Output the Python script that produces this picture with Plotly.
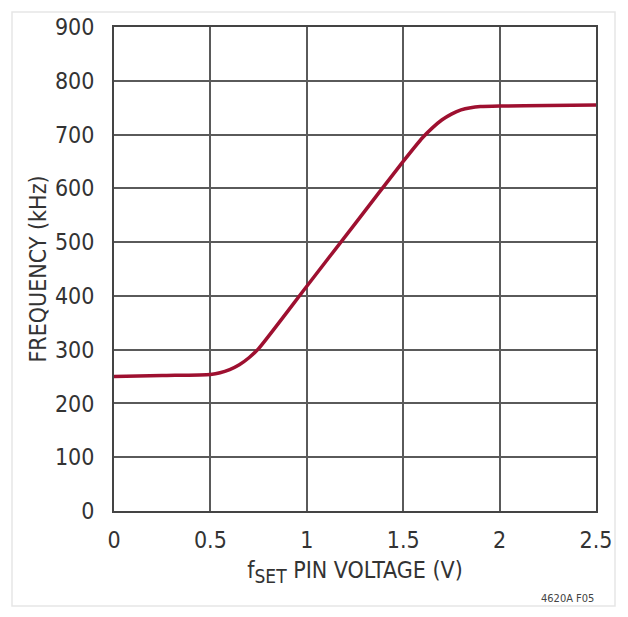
import plotly.graph_objects as go

# Data
voltage = [0.0, 0.25, 0.5, 0.55, 0.6, 0.65, 0.7, 0.75, 1.0, 1.25, 1.5, 1.6, 1.65, 1.7, 1.75, 1.8, 1.85, 1.9, 2.0, 2.25, 2.5]
frequency = [250, 252, 254, 257, 263, 272, 285, 302, 418, 534, 650, 694, 712, 727, 738, 746, 750, 752, 753, 754, 755]

x_ticks = [0, 0.5, 1, 1.5, 2, 2.5]
x_tick_labels = ["0", "0.5", "1", "1.5", "2", "2.5"]
y_ticks = [0, 100, 200, 300, 400, 500, 600, 700, 800, 900]

FONT = "DejaVu Sans Condensed, Liberation Sans Narrow, sans-serif"
GRID = "#5a5a5a"
TXT = "#333333"

fig = go.Figure()
fig.add_trace(go.Scatter(
    x=voltage, y=frequency, mode="lines",
    line=dict(color="#9E1030", width=3.5, shape="spline", smoothing=0.6),
    hoverinfo="skip", showlegend=False,
))

fig.update_layout(
    width=628, height=617,
    margin=dict(l=114, r=32, t=27, b=106),
    paper_bgcolor="white", plot_bgcolor="white",
    font=dict(family=FONT, color=TXT, size=20),
    showlegend=False,
    xaxis=dict(
        range=[0, 2.5], tickvals=x_ticks, ticktext=x_tick_labels,
        showgrid=True, gridcolor=GRID, gridwidth=1.5,
        showline=True, linecolor="#444444", linewidth=2, mirror=True,
        zeroline=False, ticks="", ticklabelstandoff=7,
        tickfont=dict(size=23, family=FONT, color=TXT),
        title=dict(text="f<sub><span style='font-size:19px'>SET</span></sub> PIN VOLTAGE (V)",
                   font=dict(size=23, family=FONT, color=TXT), standoff=10),
        fixedrange=True,
    ),
    yaxis=dict(
        range=[0, 900], tickvals=y_ticks,
        showgrid=True, gridcolor=GRID, gridwidth=1.5,
        showline=True, linecolor="#444444", linewidth=2, mirror=True,
        zeroline=False, ticks="", ticklabelstandoff=13,
        tickfont=dict(size=23, family=FONT, color=TXT),
        title=dict(text="FREQUENCY (kHz)", font=dict(size=23, family=FONT, color=TXT), standoff=2),
        fixedrange=True,
    ),
    shapes=[dict(
        type="rect", xref="paper", yref="paper",
        x0=-102/482, x1=(615-114)/482, y0=-(606-511)/484, y1=1 + 15/484,
        line=dict(color="#e6e6e6", width=1.5), layer="below",
    )],
    annotations=[dict(
        text="4620A F05", xref="paper", yref="paper",
        x=1, y=-(598-511)/484, xanchor="right", yanchor="middle",
        showarrow=False, font=dict(size=11, family=FONT, color="#444444"),
    )],
)

fig.write_html("out.html")
